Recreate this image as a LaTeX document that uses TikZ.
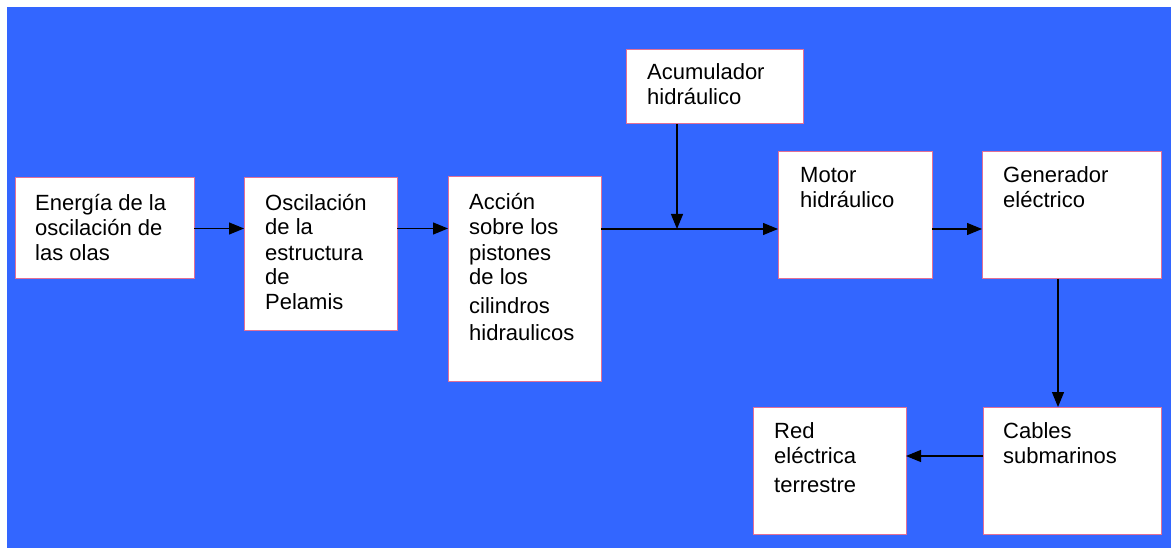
\documentclass[tikz,border=0pt]{standalone}
\usepackage{fontspec}
\setmainfont{Liberation Sans}
\usetikzlibrary{arrows.meta}
\definecolor{bgblue}{RGB}{51,102,255}
\definecolor{boxedge}{RGB}{226,112,150}
\begin{document}
\begin{tikzpicture}[x=1pt,y=-1pt,
  box/.style={draw=boxedge,line width=1pt,fill=white,inner sep=0pt,outer sep=0pt,anchor=north west},
  lbl/.style={anchor=base west,inner sep=0pt,align=left,font=\fontsize{22}{25}\selectfont},
  arr/.style={line width=1.2pt,-{Triangle[length=15pt,width=12pt]}}]
\useasboundingbox (0,0) rectangle (1171,548);
\fill[bgblue] (7,7) rectangle (1171,548);

% blocks
\node[box,minimum width=179,minimum height=101] (ene) at (15,178) {};
\node[box,minimum width=153,minimum height=153] (osc) at (244,178) {};
\node[box,minimum width=153,minimum height=204] (acc) at (448,177) {};
\node[box,minimum width=177,minimum height=74]  (acu) at (626,50) {};
\node[box,minimum width=154,minimum height=127] (mot) at (778,152) {};
\node[box,minimum width=179,minimum height=127] (gen) at (982,152) {};
\node[box,minimum width=178,minimum height=127] (cab) at (983,407) {};
\node[box,minimum width=153,minimum height=127] (red) at (753,407) {};

% labels (anchored on the baseline of their last line)
\node[lbl] (tene) at (35,261) {Energía de la\\oscilación de\\las olas};
\node[lbl] (tosc) at (265,310) {Oscilación\\de la\\estructura\\de\\Pelamis};
\node[lbl] (tacc) at (469,341) {Acción\\sobre los\\pistones\\de los\\[3pt]cilindros\\[3pt]hidraulicos};
\node[lbl] (tacu) at (647,105) {Acumulador\\hidráulico};
\node[lbl] (tmot) at (800,208) {Motor\\hidráulico};
\node[lbl] (tgen) at (1003,208) {Generador\\eléctrico};
\node[lbl] (tcab) at (1003,463) {Cables\\submarinos};
\node[lbl] (tred) at (774,492) {Red\\eléctrica\\[4pt]terrestre};

% connectors
\coordinate (j) at (677,229);
\coordinate (k) at (1058,0);
\coordinate (l) at (0,456);
\draw[arr] (ene.east) -- (ene.east -| osc.west);
\draw[arr] (ene.east -| osc.east) -- (ene.east -| acc.west);
\draw[arr] (acc.east |- j) -- (mot.west |- j);
\draw[arr] (acu.south -| j) -- (j);
\draw[arr] (mot.east |- j) -- (gen.west |- j);
\draw[arr] (gen.south -| k) -- (cab.north -| k);
\draw[arr] (cab.west |- l) -- (red.east |- l);
\end{tikzpicture}
\end{document}
